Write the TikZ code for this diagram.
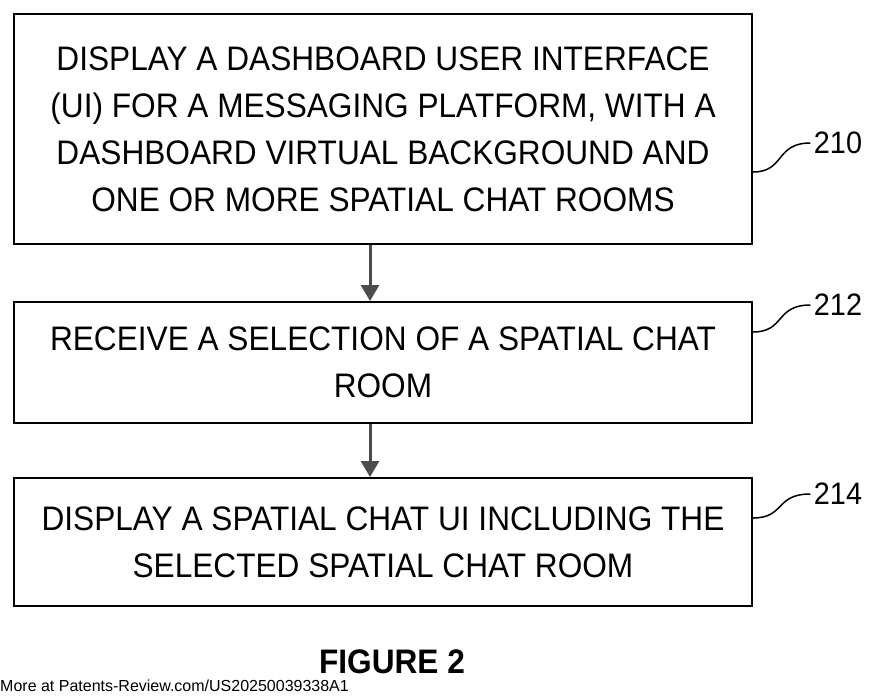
\documentclass[tikz,border=0pt]{standalone}
\usepackage{fontspec}
\setmainfont{Liberation Sans}
\newfontfamily\condfont[FakeStretch=0.93]{Liberation Sans}
\usetikzlibrary{arrows.meta}
\begin{document}
\begin{tikzpicture}[x=1pt,y=-1pt,
  stepbox/.style={draw,line width=2pt,minimum width=738pt,inner sep=0pt,align=center,font=\condfont\fontsize{34}{47}\selectfont},
  arr/.style={draw=black!70,line width=3pt,-{Triangle[length=16pt,width=18pt]}},
  lbl/.style={font=\condfont\fontsize{31}{32}\selectfont},
  lead/.style={line width=1.5pt}]
\useasboundingbox (0,0) rectangle (880,696);
\node[stepbox,minimum height=230pt] (b1) at (383,129) {DISPLAY A DASHBOARD USER INTERFACE\\(UI) FOR A MESSAGING PLATFORM, WITH A\\DASHBOARD VIRTUAL BACKGROUND AND\\ONE OR MORE SPATIAL CHAT ROOMS};
\node[stepbox,minimum height=121pt] (b2) at (383,362.5) {RECEIVE A SELECTION OF A SPATIAL CHAT\\ROOM};
\node[stepbox,minimum height=128pt] (b3) at (383,542) {DISPLAY A SPATIAL CHAT UI INCLUDING THE\\SELECTED SPATIAL CHAT ROOM};
\draw[arr] (b1.south -| 370,0) -- (b2.north -| 370,0);
\draw[arr] (b2.south -| 370,0) -- (b3.north -| 370,0);
\node[lbl] (l1) at (838,143) {210};
\node[lbl] (l2) at (838,305) {212};
\node[lbl] (l3) at (838,494) {214};
\draw[lead] (753,172) .. controls (785,172) and (775,143) .. (l1.west);
\draw[lead] (753,332) .. controls (785,332) and (775,305) .. (l2.west);
\draw[lead] (753,518) .. controls (785,518) and (775,494) .. (l3.west);
\node[font=\condfont\bfseries\fontsize{34}{36}\selectfont] (fig) at (392,662) {FIGURE 2};
\node[anchor=west,font=\fontsize{16}{17}\selectfont,inner sep=0pt] (foot) at (0,686) {More at Patents-Review.com/US20250039338A1};
\end{tikzpicture}
\end{document}
